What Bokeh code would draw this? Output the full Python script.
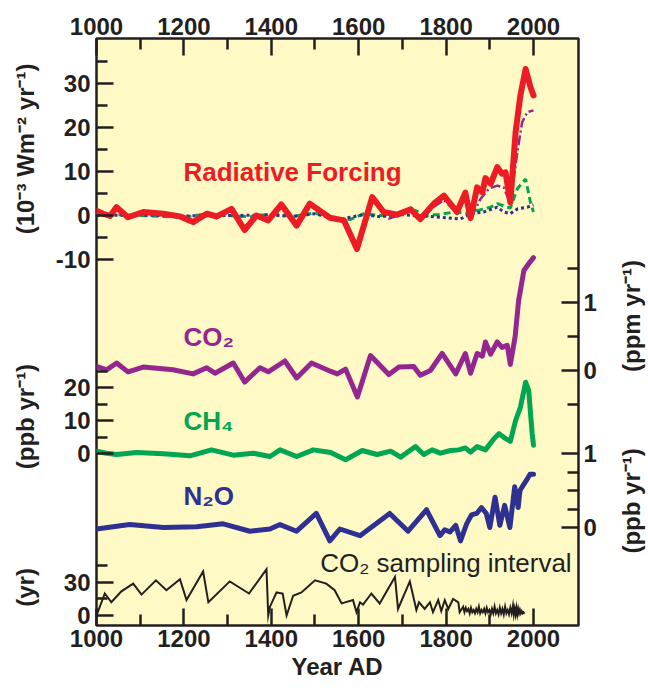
import math
from bokeh.plotting import figure
from bokeh.layouts import row
from bokeh.models import Range1d, LinearAxis, FixedTicker, Label
from bokeh.embed import file_html
from bokeh.resources import INLINE

# ---------------- data ----------------
RF_YEARS = [1000, 1015, 1031, 1046, 1072, 1107, 1153, 1191, 1221, 1252, 1275, 1309, 1339, 1366,
            1393, 1423, 1458, 1488, 1534, 1566, 1596, 1631, 1657, 1688, 1719, 1741, 1772, 1795,
            1825, 1844, 1856, 1871, 1883, 1890, 1902, 1917, 1928, 1936, 1947, 1959, 1970, 1982,
            1993, 2000]
RF_TOTAL = [1.1, 0.4, -0.1, 1.9, -0.4, 0.8, 0.4, -0.2, -1.5, 0.4, -0.2, 1.5, -3.3, 0.0,
            -1.1, 2.5, -2.3, 2.7, -0.5, -1.1, -7.6, 4.2, 0.8, 0.2, 1.4, -0.8, 2.7, 4.5,
            0.8, 5.2, -0.6, 6.4, 5.3, 8.5, 7.2, 11.0, 9.5, 9.8, 3.0, 18.9, 27.3, 33.3,
            29.2, 27.3]

RF_CO2_YEARS = [1000, 1015, 1031, 1046, 1072, 1107, 1153, 1191, 1221, 1252, 1275, 1309, 1339,
                1366, 1393, 1423, 1458, 1488, 1534, 1566, 1596, 1631, 1657, 1669, 1719, 1741,
                1772, 1795, 1825, 1844, 1856, 1879, 1898, 1917, 1932, 1947, 1963, 1974, 1986,
                2000]
RF_CO2 = [0.8, 0.3, 0.0, 1.5, -0.2, 0.6, 0.3, -0.2, -1.2, 0.3, -0.6, 1.2, -2.6,
          0.0, -0.9, 2.0, -1.8, 2.2, -0.4, -0.9, -6.5, 3.6, 0.5, -0.7, 1.0, -0.8,
          2.0, 3.5, 0.5, 4.0, -0.8, 3.8, 6.1, 6.8, 6.4, 2.7, 14.4, 21.2, 23.5,
          23.9]

RF_CH4_YEARS = [1000, 1050, 1100, 1150, 1200, 1259, 1300, 1350, 1404, 1450, 1500, 1535, 1581,
                1612, 1650, 1688, 1730, 1757, 1790, 1818, 1845, 1871, 1902, 1917, 1947, 1963,
                1982, 1993, 2000]
RF_CH4 = [0.3, 0.2, 0.0, -0.2, -0.4, 0.5, 0.0, -0.3, 0.4, -0.2, 0.6, -0.6, -0.9,
          0.4, 0.0, 0.2, 1.1, 0.0, 0.3, 0.8, 0.5, 1.1, 1.9, 2.7, 1.7, 6.1,
          8.3, 3.0, 0.8]

RF_N2O_YEARS = [1000, 1100, 1200, 1300, 1400, 1450, 1500, 1535, 1560, 1612, 1650, 1690, 1726,
                1760, 1787, 1833, 1856, 1886, 1917, 1932, 1947, 1963, 1986, 2000]
RF_N2O = [0.0, 0.1, -0.1, 0.0, 0.1, -0.2, 0.4, -0.5, -0.8, 0.2, -0.3, 0.3, 0.0,
          -0.2, -0.4, -0.8, 0.4, 0.8, 1.9, 0.8, 0.4, 1.5, 1.9, 2.4]

CO2_YEARS = [1000, 1023, 1046, 1072, 1107, 1175, 1221, 1252, 1271, 1313, 1339, 1374, 1393,
             1431, 1458, 1492, 1535, 1551, 1570, 1597, 1627, 1669, 1692, 1726, 1741, 1764,
             1791, 1822, 1844, 1856, 1871, 1883, 1890, 1902, 1917, 1928, 1940, 1947, 1958,
             1966, 1978, 1989, 2000]
CO2_RATE = [0.06, 0.01, 0.11, -0.02, 0.05, 0.01, -0.05, 0.04, -0.04, 0.11, -0.17, 0.04, -0.02,
            0.14, -0.11, 0.11, -0.01, -0.05, 0.02, -0.39, 0.22, -0.06, 0.05, 0.06, -0.07, 0.0,
            0.25, -0.05, 0.25, -0.04, 0.25, 0.21, 0.42, 0.24, 0.42, 0.34, 0.37, 0.09, 0.5,
            1.03, 1.47, 1.57, 1.66]

CH4_YEARS = [1000, 1023, 1046, 1092, 1153, 1214, 1263, 1313, 1358, 1397, 1420, 1458, 1496,
             1536, 1570, 1608, 1642, 1673, 1696, 1730, 1749, 1768, 1787, 1810, 1829, 1844,
             1856, 1871, 1890, 1909, 1921, 1932, 1947, 1959, 1970, 1982, 1989, 1997, 2000]
CH4_RATE = [0.7, 0.1, -0.3, 0.3, -0.1, -0.7, 1.1, -0.5, 0.1, -0.9, 1.1, -0.9, 1.1,
            0.3, -1.9, 0.9, -0.3, 0.7, -1.1, 2.1, -0.3, 1.1, 0.1, 0.9, 1.1, 1.7,
            0.4, 2.1, 1.1, 4.4, 6.0, 4.9, 3.7, 10.0, 14.0, 21.6, 19.1, 6.0, 2.5]

N2O_YEARS = [1000, 1076, 1153, 1229, 1290, 1351, 1397, 1420, 1458, 1503, 1534, 1557, 1603,
             1671, 1713, 1755, 1786, 1797, 1809, 1822, 1833, 1847, 1858, 1870, 1881, 1892,
             1900, 1912, 1923, 1934, 1946, 1957, 1965, 1969, 1984, 1992, 2000]
N2O_RATE = [-0.02, 0.04, 0.0, 0.01, 0.05, -0.05, -0.02, 0.04, -0.05, 0.19, -0.18, -0.02, -0.11,
            0.19, -0.05, 0.24, -0.11, -0.03, -0.06, 0.03, -0.18, 0.05, 0.17, 0.19, 0.27, 0.19,
            0.0, 0.41, 0.03, 0.30, 0.0, 0.55, 0.27, 0.50, 0.64, 0.72, 0.72]

SAMPLE_YEARS = [1000, 1019, 1034, 1057, 1084, 1103, 1136, 1160, 1191, 1206, 1244, 1256, 1305,
                1349, 1389, 1393, 1397, 1412, 1426, 1435, 1450, 1469, 1500, 1526, 1545, 1561,
                1587, 1595, 1603, 1610, 1629, 1648, 1683, 1690, 1717, 1732, 1738, 1751, 1763,
                1770, 1782, 1789, 1797, 1805, 1816, 1828, 1831, 1839, 1842, 1845, 1848, 1851,
                1854, 1857, 1860, 1863, 1866, 1869, 1872, 1875, 1878, 1881, 1884, 1887, 1890,
                1893, 1896, 1899, 1902, 1905, 1908, 1911, 1914, 1917, 1920, 1923, 1926, 1929,
                1932, 1935, 1938, 1941, 1944, 1947, 1950, 1953, 1955, 1957, 1959, 1961, 1963,
                1965, 1967, 1969, 1971, 1973, 1975, 1977, 1979, 1980]
SAMPLE_INTERVAL = [0, 20, 12, 22, 29, 19, 32, 23, 33, 14, 40, 12, 31,
                   20, 42, 0, 8, 21, 20, 0, 18, 21, 32, 29, 23, 11,
                   14, 3, 12, 10, 20, 11, 35, 6, 31, 5, 12, 6, 12,
                   3, 14, 4, 14, 6, 15, 12, 3, 8, 3, 7, 4, 6,
                   2, 7, 3, 5, 2, 6, 3, 8, 2, 5, 3, 6, 2,
                   7, 3, 5, 1, 6, 2, 8, 2, 5, 1, 7, 2, 6,
                   1, 8, 2, 5, 1, 7, 2, 9, 1, 6, 1, 7, 1,
                   6, 2, 5, 2, 4, 2, 3, 2, 2]

YEAR_MAJOR = [1000, 1200, 1400, 1600, 1800, 2000]
YEAR_MINOR = [1100, 1300, 1500, 1700, 1900]
RF_MAJOR = [-10, 0, 10, 20, 30]
RF_MINOR = [-5, 5, 15, 25, 35]
CH4_MAJOR = [0, 10, 20]
CH4_MINOR = [5, 15, 25]
INT_MAJOR = [0, 30]
INT_MINOR = [15, 45]
CO2_MAJOR = [0, 1]
CO2_MINOR = [-0.5, 0.5, 1.5]
N2O_MAJOR = [0, 1]
N2O_MINOR = [0.25, 0.5, 0.75]

# ---------------- styling / layout ----------------
RED = "#ED1C24"
PURPLE = "#93278F"
GREEN = "#00A651"
BLACK = "#231F20"
BLUE = "#2E3192"
YELLOW = "#FFF9C5"
FONT = "Liberation Sans"

X_RANGE = (1000, 2103)
RF_RANGE = (-93.18, 40.23)
CO2_RANGE = (-3.75, 4.882)
CH4_RANGE = (-52.12, 125.76)
N2O_RANGE = (-1.324, 6.608)
INT_RANGE = (-9.09, 524.5)

H = 686
TOP, BOTTOM = 38, 61
LEFT_W, RIGHT_W = 46, 36

y_main = Range1d(*RF_RANGE)
extra = {
    "co2": Range1d(*CO2_RANGE),
    "ch4": Range1d(*CH4_RANGE),
    "n2o": Range1d(*N2O_RANGE),
    "int": Range1d(*INT_RANGE),
}

p = figure(width=564, height=H, x_range=Range1d(*X_RANGE), y_range=y_main,
           output_backend="svg", toolbar_location=None,
           x_axis_location=None, y_axis_location=None,
           min_border_left=50, min_border_right=32, min_border_top=TOP, min_border_bottom=BOTTOM)
p.extra_y_ranges = extra
p.background_fill_color = YELLOW
p.border_fill_color = "white"
p.outline_line_color = BLACK
p.outline_line_width = 2.5
p.xgrid.grid_line_color = None
p.ygrid.grid_line_color = None


def main_pos(v, rng):
    a, b = rng
    A, B = RF_RANGE
    return A + (v - a) * (B - A) / (b - a)


def style_axis(ax, standoff=6):
    ax.axis_line_color = None
    ax.major_tick_in = 17
    ax.major_tick_out = 0
    ax.minor_tick_in = 11
    ax.minor_tick_out = 0
    ax.major_tick_line_width = 2.5
    ax.minor_tick_line_width = 2.5
    ax.major_tick_line_color = BLACK
    ax.minor_tick_line_color = BLACK
    ax.major_label_text_font = FONT
    ax.major_label_text_font_style = "bold"
    ax.major_label_text_font_size = "24px"
    ax.major_label_text_color = BLACK
    ax.major_label_standoff = standoff


# x axes (top and bottom)
top_ax = LinearAxis(ticker=FixedTicker(ticks=YEAR_MAJOR, minor_ticks=YEAR_MINOR))
style_axis(top_ax, 4)
p.add_layout(top_ax, "above")
bot_ax = LinearAxis(ticker=FixedTicker(ticks=YEAR_MAJOR, minor_ticks=YEAR_MINOR),
                    axis_label="Year AD")
style_axis(bot_ax, 4)
bot_ax.axis_label_standoff = 3
bot_ax.axis_label_text_font = FONT
bot_ax.axis_label_text_font_style = "bold"
bot_ax.axis_label_text_font_size = "24px"
bot_ax.axis_label_text_color = BLACK
p.add_layout(bot_ax, "below")

# left axis: forcing, CH4, sampling interval stacked on one spine
left_major, left_minor, left_labels = [], [], {}
for vals, rng in ((RF_MAJOR, RF_RANGE), (CH4_MAJOR, CH4_RANGE), (INT_MAJOR, INT_RANGE)):
    for v in vals:
        pos = main_pos(v, rng)
        left_major.append(pos)
        left_labels[pos] = str(v)
for vals, rng in ((RF_MINOR, RF_RANGE), (CH4_MINOR, CH4_RANGE), (INT_MINOR, INT_RANGE)):
    left_minor += [main_pos(v, rng) for v in vals]
lax = LinearAxis(ticker=FixedTicker(ticks=left_major, minor_ticks=left_minor),
                 major_label_overrides=left_labels)
style_axis(lax, 6)
p.add_layout(lax, "left")

# right axis: CO2 and N2O
right_major, right_minor, right_labels = [], [], {}
for vals, rng in ((CO2_MAJOR, CO2_RANGE), (N2O_MAJOR, N2O_RANGE)):
    for v in vals:
        pos = main_pos(v, rng)
        right_major.append(pos)
        right_labels[pos] = str(v)
for vals, rng in ((CO2_MINOR, CO2_RANGE), (N2O_MINOR, N2O_RANGE)):
    right_minor += [main_pos(v, rng) for v in vals]
rax = LinearAxis(ticker=FixedTicker(ticks=right_major, minor_ticks=right_minor),
                 major_label_overrides=right_labels)
style_axis(rax, 5)
p.add_layout(rax, "right")

# ---------------- curves ----------------
p.line(RF_CO2_YEARS, RF_CO2, line_color=PURPLE, line_width=2.5, line_dash="10 3 2 3")
p.line(RF_CH4_YEARS, RF_CH4, line_color=GREEN, line_width=3, line_dash="7 4")
p.line(RF_N2O_YEARS, RF_N2O, line_color=BLUE, line_width=3, line_dash="3 3")
p.line(RF_YEARS, RF_TOTAL, line_color=RED, line_width=6, line_join="round", line_cap="round")

p.line(CO2_YEARS, CO2_RATE, y_range_name="co2", line_color=PURPLE, line_width=5,
       line_join="round", line_cap="round")
p.line(CH4_YEARS, CH4_RATE, y_range_name="ch4", line_color=GREEN, line_width=5,
       line_join="round", line_cap="round")
p.line(N2O_YEARS, N2O_RATE, y_range_name="n2o", line_color=BLUE, line_width=5,
       line_join="round", line_cap="round")
p.line(SAMPLE_YEARS, SAMPLE_INTERVAL, y_range_name="int", line_color=BLACK, line_width=2,
       line_join="miter")


# ---------------- texts ----------------
def add_label(fig, text, x, y, rng=None, color=BLACK, size="26px", style="bold", **kw):
    opts = dict(x=x, y=y, text=text, text_color=color, text_font=FONT,
                text_font_size=size, text_font_style=style, text_baseline="middle")
    if rng is not None:
        opts["y_range_name"] = rng
    opts.update(kw)
    fig.add_layout(Label(**opts))


add_label(p, "Radiative Forcing", 1199, 9.8, color=RED)
add_label(p, "CO\u2082", 1199, 0.49, rng="co2", color=PURPLE)
add_label(p, "CH\u2084", 1199, 9.7, rng="ch4", color=GREEN)
add_label(p, "N\u2082O", 1199, 0.42, rng="n2o", color=BLUE)
add_label(p, "CO\u2082 sampling interval", 1512, 48, rng="int", color=BLACK, style="normal")


def side_figure(w):
    f = figure(width=w, height=H, x_range=Range1d(0, w), y_range=y_main,
               output_backend="svg", toolbar_location=None,
               x_axis_location=None, y_axis_location=None,
               min_border_left=0, min_border_right=0, min_border_top=TOP,
               min_border_bottom=BOTTOM)
    f.extra_y_ranges = extra
    f.outline_line_color = None
    f.background_fill_color = "white"
    f.border_fill_color = "white"
    f.xgrid.grid_line_color = None
    f.ygrid.grid_line_color = None
    return f


left_fig = side_figure(LEFT_W)
right_fig = side_figure(RIGHT_W)

rot = dict(angle=math.pi / 2, text_align="center", size="24px")
add_label(left_fig, "(10\u207b\u00b3 Wm\u207b\u00b2  yr\u207b\u00b9)", 25, 15.9, **rot)
add_label(left_fig, "(ppb yr\u207b\u00b9)", 25, 11.2, rng="ch4", **rot)
add_label(left_fig, "(yr)", 25, 25.5, rng="int", **rot)
add_label(right_fig, "(ppm  yr\u207b\u00b9)", 21, 0.85, rng="co2", **rot)
add_label(right_fig, "(ppb  yr\u207b\u00b9)", 21, 0.405, rng="n2o", **rot)

layout = row(left_fig, p, right_fig)
open("out.html", "w").write(file_html(layout, INLINE))
